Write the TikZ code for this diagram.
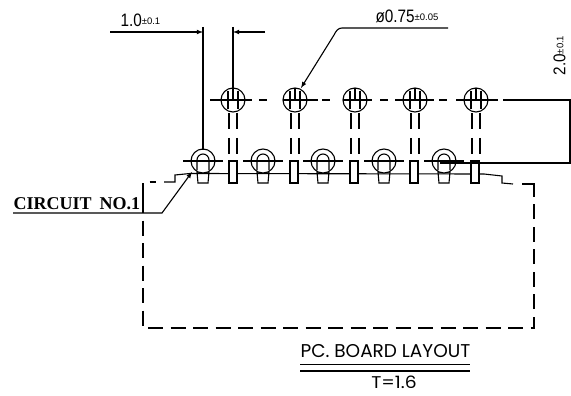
\documentclass[tikz,border=0pt]{standalone}
\usepackage{graphicx}
\usepackage{fontspec}
\setmainfont{Liberation Serif}
\newfontfamily\dimfont{Liberation Sans}
\newfontfamily\layoutfont{Poppins}

\begin{document}
\begin{tikzpicture}
[
    x=1pt, y=-1pt,
    every path/.style={line width=1.1pt},
    boardline/.style={dash pattern=on 15pt off 7.5pt},
    pinline/.style={dash pattern=on 16pt off 9pt},
    lbl/.style={inner sep=0pt},
]
\useasboundingbox (0,0) rectangle (571,396);

% upper row of holes
\foreach \x/\n/\a/\b in {233/a/-23/19, 295/b/-12/23, 355/c/-12/17, 415/d/-20/19, 476/e/-20/22}
{
    \coordinate (hole\n) at (\x,100);
    \draw (hole\n) circle (12);
    \draw (\x+\a,100) -- (\x+\b,100);
    \draw (\x-5,91) -- (\x-5,109);
    \draw (\x+5,91) -- (\x+5,109);
    \draw (\x,88) -- (\x,100);
    \draw [pinline] (\x-4,113) -- (\x-4,154);
    \draw [pinline] (\x+4,113) -- (\x+4,154);
}
\foreach \x in {259, 322, 380, 439}
{
    \draw (\x,100) -- (\x+8,100);
}

% lower row
\foreach \x/\n in {203/a, 263/b, 323/c, 384/d, 444/e}
{
    \coordinate (pad\n) at (\x,161);
    \filldraw [fill=white] (\x-6,172) -- (\x-5,183) -- (\x+5,183) -- (\x+6,172) -- cycle;
    \filldraw [fill=white] (pad\n) circle (12);
    \draw (\x-6,170) -- (\x-6,160) arc (180:360:6) -- (\x+6,170);
    \draw (\x-20,161) -- (\x+20,161);
}
\draw (190,173.5) -- (484,174);
\foreach \x in {233, 294, 354, 414, 475}
{
    \filldraw [fill=white] (\x-4,161) rectangle (\x+4,183);
}

% board outline
\draw [boardline] (143,198) -- (143,182) -- (156,182);
\draw (164,182) -- (175,182) -- (175,175) -- (190,173.5);
\draw [boardline] (143,198) -- (143,328) -- (534,328) -- (534,197);
\draw (484,174) -- (502,176) -- (502,183) -- (513,184);
\draw (522,184) -- (534,184) -- (534,197);

% dimensions
\coordinate (dimleft) at (203,27);
\coordinate (dimright) at (233,27);
\coordinate (dimfar) at (570,100);
\coordinate (dimlow) at (570,163);
\draw (dimleft) -- (203,150);
\draw (dimright) -- (233,89);
\draw [-latex] (110,32) -- (203,32);
\draw [-latex] (265,32) -- (233,32);
\draw (503,100) -- (dimfar) -- (dimlow) -- (440,163);

% labels
\node [lbl, anchor=south west] (dimone) at (120,27) {\dimfont\scalebox{0.85}[1]{\fontsize{18}{18}\selectfont 1.0}\fontsize{9.5}{9.5}\selectfont\raisebox{2pt}{±0.1}};
\node [lbl, anchor=south west] (dimhole) at (375,23) {\dimfont\scalebox{0.85}[1]{\fontsize{18}{18}\selectfont ø0.75}\fontsize{9.5}{9.5}\selectfont\raisebox{2pt}{±0.05}};
\node [lbl, rotate=90, anchor=south west] (dimpitch) at (566,76) {\dimfont\scalebox{0.9}[1]{\fontsize{17}{17}\selectfont 2.0}\fontsize{9.5}{9.5}\selectfont\raisebox{2pt}{±0.1}};
\node [lbl, anchor=south west, font=\bfseries\fontsize{18}{18}\selectfont] (circuit) at (13,210) {CIRCUIT\hspace{8pt}NO.1};
\node [lbl, anchor=south west] (layout) at (300,358) {\layoutfont\fontsize{18.5}{18.5}\selectfont PC. BOARD LAYOUT};
\node [lbl, anchor=south] (thick) at (394,389) {\layoutfont\scalebox{1.1}[1]{\fontsize{17}{17}\selectfont T=1.6}};

% leaders
\coordinate (holetip) at (301,88);
\coordinate (padtip) at (192,172);
\draw (300,364.5) -- (470,364.5);
\draw (300,371) -- (470,371);
\draw [-latex] (448,28) -- (342,28) .. controls (338,28) and (336,31) .. (334,35) -- (holetip);
\draw [-latex] (13,213) -- (162,213) -- (padtip);
\end{tikzpicture}
\end{document}
